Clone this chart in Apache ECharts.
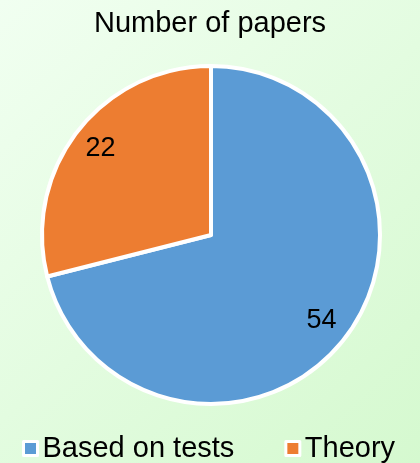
<!DOCTYPE html>
<html>
<head>
<meta charset="utf-8">
<script src="https://cdn.jsdelivr.net/npm/echarts@6/dist/echarts.min.js"></script>
<style>
  html, body { margin: 0; padding: 0; }
  #chart { width: 420px; height: 463px; }
</style>
</head>
<body>
<div id="chart"></div>
<script>
// Paper counts by research approach
const categories = ['Based on tests', 'Theory'];
const paperCounts = [54, 22];
const sliceColors = ['#5B9BD5', '#ED7D31'];
const chartTitle = 'Number of papers';

const font = '"Liberation Sans", Arial, sans-serif';
const pieData = categories.map((name, i) => ({
  name: name,
  value: paperCounts[i],
  itemStyle: { color: sliceColors[i] }
}));

const chart = echarts.init(document.getElementById('chart'), null, { renderer: 'canvas' });
chart.setOption({
  animation: false,
  backgroundColor: new echarts.graphic.LinearGradient(0, 0, 1, 1, [
    { offset: 0, color: '#f1fff1' },
    { offset: 1, color: '#d5f9cf' }
  ]),
  title: {
    text: chartTitle,
    left: 'center',
    top: 4,
    textStyle: { fontFamily: font, fontSize: 29, fontWeight: 'normal', color: '#000' }
  },
  legend: {
    data: categories,
    top: 429,
    left: 17,
    itemWidth: 14,
    itemHeight: 14,
    itemGap: 50,
    icon: 'rect',
    itemStyle: { borderColor: '#ffffff', borderWidth: 3 },
    textStyle: { fontFamily: font, fontSize: 29, color: '#000' }
  },
  series: [
    {
      type: 'pie',
      center: [211, 235],
      radius: [0, 169],
      startAngle: 90,
      clockwise: true,
      silent: true,
      itemStyle: { borderColor: '#ffffff', borderWidth: 4 },
      label: { show: false },
      labelLine: { show: false },
      data: pieData
    },
    {
      // transparent ring that carries the value labels at ~80% of the radius
      type: 'pie',
      center: [211, 235],
      radius: [104, 170],
      startAngle: 90,
      clockwise: true,
      silent: true,
      itemStyle: { color: 'transparent', borderWidth: 0 },
      label: {
        show: true,
        position: 'inside',
        formatter: '{c}',
        fontFamily: font,
        fontSize: 27,
        color: '#000'
      },
      labelLine: { show: false },
      data: categories.map((name, i) => ({ name: name, value: paperCounts[i] }))
    }
  ]
});
</script>
</body>
</html>
